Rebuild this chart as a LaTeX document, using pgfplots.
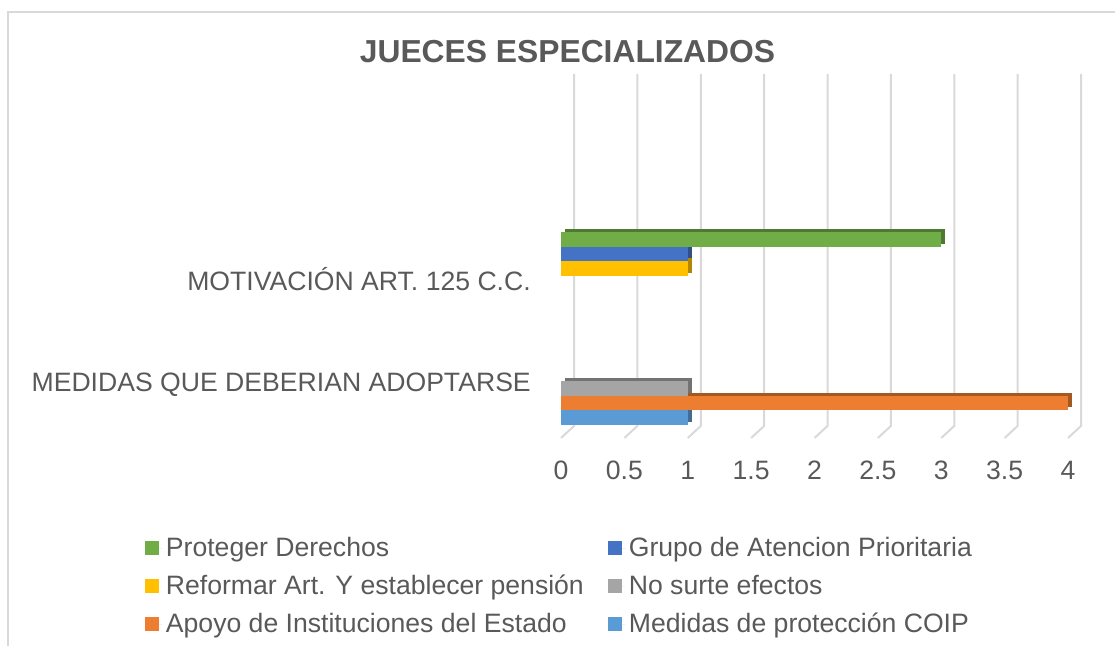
\documentclass[border=0pt]{standalone}
\usepackage{pgfplots}
\pgfplotsset{compat=1.18}
\usepackage{fontspec}
\setmainfont{Liberation Sans}
\definecolor{cGreen}{HTML}{70AD47}
\definecolor{cBlue}{HTML}{4472C4}
\definecolor{cYellow}{HTML}{FFC000}
\definecolor{cGray}{HTML}{A5A5A5}
\definecolor{cOrange}{HTML}{ED7D31}
\definecolor{cLBlue}{HTML}{5B9BD5}
\definecolor{txt}{HTML}{595959}
\definecolor{gridc}{HTML}{D9D9D9}
\begin{document}
\begin{tikzpicture}
\path[use as bounding box] (0,0) rectangle (557.5pt,323pt);
\draw[gridc, line width=0.75pt] (4pt,0) -- (4pt,317pt) -- (557.5pt,317pt);
\node[font=\fontsize{15.9}{19}\selectfont\bfseries, text=txt] at (283.75pt,297pt) {JUECES ESPECIALIZADOS};

% back wall grid
\begin{axis}[at={(280.5pt,104pt)}, anchor=south west, scale only axis,
  width=253.5pt, height=158.5pt, xmin=0, xmax=4, ymin=-0.235, ymax=1.893,
  hide axis, clip=false]
\pgfplotsinvokeforeach{0,0.5,1,1.5,2,2.5,3,3.5,4}{
  \draw[gridc, line width=1pt] (axis cs:#1,-0.235) -- ++(6.5pt,6pt) -- ++(0,158.5pt);
}
\end{axis}

\begin{axis}[at={(280.5pt,104pt)}, anchor=south west, scale only axis,
  width=253.5pt, height=158.5pt, xmin=0, xmax=4, ymin=-0.235, ymax=1.893,
  xbar, bar width=0.097,
  axis line style={draw=none}, major tick length=0,
  xtick={0,0.5,1,1.5,2,2.5,3,3.5,4},
  ytick={0.121,0.832},
  yticklabels={MEDIDAS QUE DEBERIAN ADOPTARSE, MOTIVACIÓN ART. 125 C.C.},
  tick label style={font=\fontsize{13.3}{16}\selectfont, text=txt},
  xticklabel style={yshift=-8pt},
  yticklabel style={xshift=-11.6pt},
  /pgf/number format/assume math mode=true,
  clip=false,
  legend columns=2,
  legend cell align=left,
  legend image code/.code={\path (0pt,0pt) -- (8.5pt,0pt);\fill[#1, draw=none] (0pt,-3.5pt) rectangle (7pt,3.5pt);},
  legend style={at={(-0.8206,-0.30)}, anchor=north west, draw=none, fill=none,
    inner sep=0pt, outer sep=0pt, row sep=3.75pt,
    font=\fontsize{13.3}{16}\selectfont, text=txt,
    /tikz/every even column/.append style={column sep=10pt}},
]
% depth faces
\addplot[fill=cGreen!70!black, draw=none, bar shift=0.097, xshift=2pt, yshift=1.5pt, forget plot] coordinates {(3,1)};
\addplot[fill=cBlue!70!black, draw=none, bar shift=0, xshift=2pt, yshift=1.5pt, forget plot] coordinates {(1,1)};
\addplot[fill=cYellow!70!black, draw=none, bar shift=-0.097, xshift=2pt, yshift=1.5pt, forget plot] coordinates {(1,1)};
\addplot[fill=cGray!70!black, draw=none, bar shift=0.097, xshift=2pt, yshift=1.5pt, forget plot] coordinates {(1,0)};
\addplot[fill=cOrange!70!black, draw=none, bar shift=0, xshift=2pt, yshift=1.5pt, forget plot] coordinates {(4,0)};
\addplot[fill=cLBlue!70!black, draw=none, bar shift=-0.097, xshift=2pt, yshift=1.5pt, forget plot] coordinates {(1,0)};
% front faces
\addplot[fill=cGreen, draw=none, bar shift=0.097] coordinates {(3,1)};
\addlegendentry{Proteger Derechos}
\addplot[fill=cBlue, draw=none, bar shift=0] coordinates {(1,1)};
\addlegendentry{Grupo de Atencion Prioritaria}
\addplot[fill=cYellow, draw=none, bar shift=-0.097] coordinates {(1,1)};
\addlegendentry{Reformar Art. Y establecer pensión}
\addplot[fill=cGray, draw=none, bar shift=0.097] coordinates {(1,0)};
\addlegendentry{No surte efectos}
\addplot[fill=cOrange, draw=none, bar shift=0] coordinates {(4,0)};
\addlegendentry{Apoyo de Instituciones del Estado}
\addplot[fill=cLBlue, draw=none, bar shift=-0.097] coordinates {(1,0)};
\addlegendentry{Medidas de protección COIP}
\end{axis}
\end{tikzpicture}
\end{document}
